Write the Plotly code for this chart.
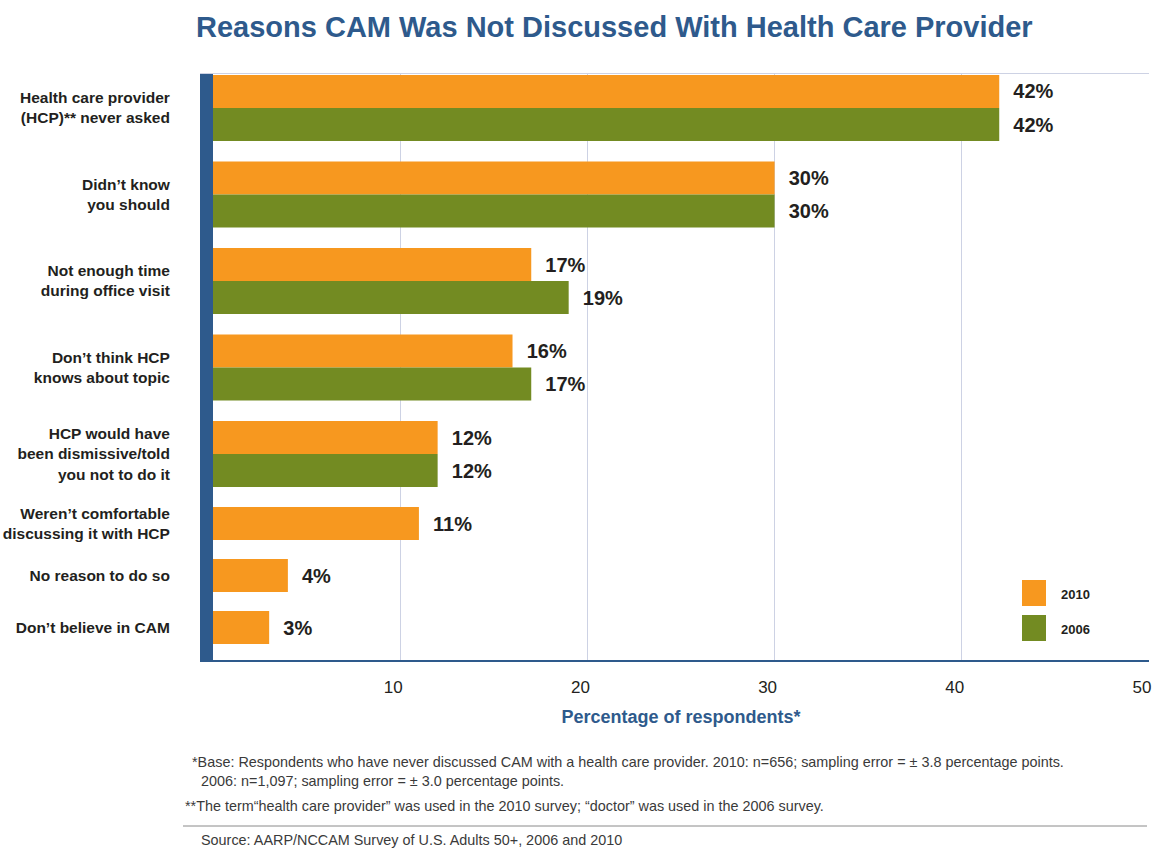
import plotly.graph_objects as go

# ---------------- data ----------------
cats_top = [
    "Health care provider<br>(HCP)** never asked",
    "Didn’t know<br>you should",
    "Not enough time<br>during office visit",
    "Don’t think HCP<br>knows about topic",
    "HCP would have<br>been dismissive/told<br>you not to do it",
]
vals_2010_top = [42, 30, 17, 16, 12]
vals_2006_top = [42, 30, 19, 17, 12]

cats_bottom = [
    "Weren’t comfortable<br>discussing it with HCP",
    "No reason to do so",
    "Don’t believe in CAM",
]
vals_2010_bottom = [11, 4, 3]

x_ticks = [10, 20, 30, 40, 50]
series_names = ["2010", "2006"]

# ---------------- style ----------------
W, H = 1163, 851
L, R, T, B = 213, 14, 74, 191
PW, PH = W - L - R, H - T - B
ORANGE = "#F7981F"
GREEN = "#738B22"
BLUE = "#2E5A8C"
GRID = "#CDD2E4"
DARK = "#231F20"
FONT = "Liberation Sans, Arial, sans-serif"

def px(xp):
    return (xp - L) / PW

def py(yp):
    return (H - B - yp) / PH

split = py(497)

fig = go.Figure()

w_top = 0.3815
w_bot = 0.635
common = dict(orientation="h", textposition="outside", cliponaxis=False,
              constraintext="none",
              texttemplate="\u00a0\u00a0%{x}%",
              textfont=dict(family=FONT, size=20, color=DARK, weight="bold"),
              hoverinfo="skip")

fig.add_trace(go.Bar(name=series_names[0], y=cats_top, x=vals_2010_top,
                     marker=dict(color=ORANGE, line=dict(width=0)),
                     width=w_top, offset=-w_top, xaxis="x", yaxis="y", **common))
fig.add_trace(go.Bar(name=series_names[1], y=cats_top, x=vals_2006_top,
                     marker=dict(color=GREEN, line=dict(width=0)),
                     width=w_top, offset=0, xaxis="x", yaxis="y", **common))
fig.add_trace(go.Bar(name=series_names[0], y=cats_bottom, x=vals_2010_bottom,
                     marker=dict(color=ORANGE, line=dict(width=0)),
                     width=w_bot, offset=-w_bot / 2, xaxis="x2", yaxis="y2",
                     **common))

ytick_font = dict(family=FONT, size=15.5, color=DARK, weight="bold")

fig.update_layout(
    width=W, height=H,
    margin=dict(l=L, r=R, t=T, b=B, pad=0, autoexpand=False),
    paper_bgcolor="white", plot_bgcolor="white",
    barmode="overlay", showlegend=False,
    xaxis=dict(domain=[0, 1], anchor="y", range=[0, 50], side="top",
               tickvals=x_ticks, showticklabels=False, ticks="",
               showgrid=True, gridcolor=GRID, gridwidth=1, zeroline=False,
               showline=True, linecolor=GRID, linewidth=1, automargin=False),
    yaxis=dict(domain=[split, 1], anchor="x", type="category",
               range=[4.497, -0.393], showgrid=False, zeroline=False,
               showline=True, linecolor=BLUE, linewidth=13, ticks="",
               tickfont=ytick_font, ticklabelstandoff=27, automargin=False),
    xaxis2=dict(domain=[0, 1], anchor="y2", range=[0, 50],
                tickvals=x_ticks, ticks="", showgrid=True, gridcolor=GRID,
                gridwidth=1, zeroline=False, showline=True, linecolor=BLUE,
                linewidth=2, tickfont=dict(family=FONT, size=17, color=DARK),
                ticklabelstandoff=11, ticklabelshift=-7, automargin=False,
                title=dict(text="Percentage of respondents*", standoff=14,
                           font=dict(family=FONT, size=18, color=BLUE,
                                     weight="bold"))),
    yaxis2=dict(domain=[0, split], anchor="x2", type="category",
                range=[2.625, -0.51], showgrid=False, zeroline=False,
                showline=True, linecolor=BLUE, linewidth=13, ticks="",
                tickfont=ytick_font, ticklabelstandoff=27, automargin=False),
)

# legend (drawn)
fig.add_shape(type="rect", xref="paper", yref="paper", x0=px(1022), x1=px(1046),
              y0=py(606), y1=py(580), fillcolor=ORANGE, line=dict(width=0))
fig.add_shape(type="rect", xref="paper", yref="paper", x0=px(1022), x1=px(1046),
              y0=py(641), y1=py(615), fillcolor=GREEN, line=dict(width=0))
for name, yy in zip(series_names, [594, 629]):
    fig.add_annotation(text=name, xref="paper", yref="paper", x=px(1059), y=py(yy),
                       xanchor="left", yanchor="middle", showarrow=False,
                       font=dict(family=FONT, size=13, color=DARK, weight="bold"))

# title
fig.add_annotation(text="Reasons CAM Was Not Discussed With Health Care Provider",
                   xref="paper", yref="paper", x=px(614), y=py(27),
                   xanchor="center", yanchor="middle", showarrow=False,
                   font=dict(family=FONT, size=29, color=BLUE, weight="bold"))

# footnotes
notes = [
    (190, 762, "*Base: Respondents who have never discussed CAM with a health care provider. 2010: n=656; sampling error = ± 3.8 percentage points."),
    (199, 781, "2006: n=1,097; sampling error = ± 3.0 percentage points."),
    (183, 806, "**The term“health care provider” was used in the 2010 survey; “doctor” was used in the 2006 survey."),
    (199, 840, "Source: AARP/NCCAM Survey of U.S. Adults 50+, 2006 and 2010"),
]
for xx, yy, t in notes:
    fig.add_annotation(text=t, xref="paper", yref="paper", x=px(xx), y=py(yy),
                       xanchor="left", yanchor="middle", showarrow=False,
                       font=dict(family=FONT, size=14.4, color="#3A3A3A"))
fig.add_shape(type="line", xref="paper", yref="paper", x0=px(183), x1=px(1147),
              y0=py(826), y1=py(826), line=dict(color="#8A8A8A", width=1))

fig.write_html("out.html",
               config={"displayModeBar": False},
               post_script="document.body.style.margin='0';"
                           "document.body.style.overflow='hidden';")
